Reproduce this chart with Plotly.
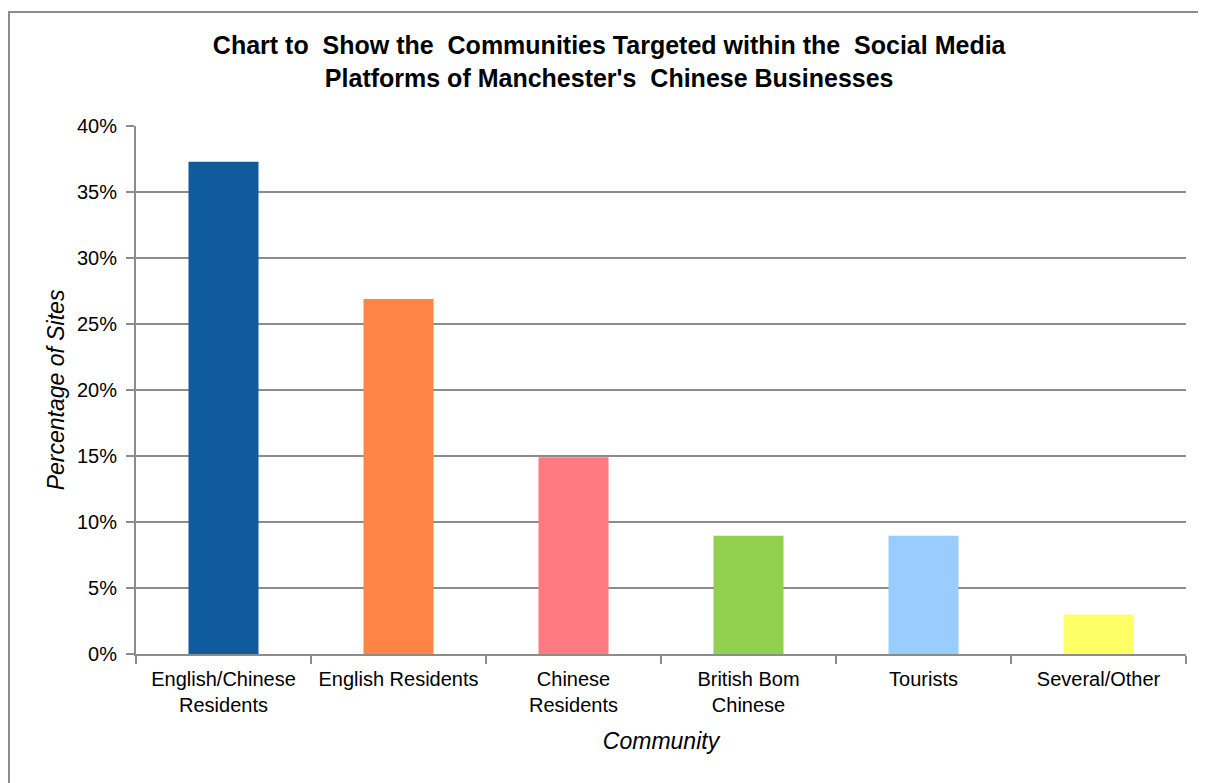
import plotly.graph_objects as go

categories = ["English/Chinese<br>Residents", "English Residents", "Chinese<br>Residents",
              "British Bom<br>Chinese", "Tourists", "Several/Other"]
values = [0.373, 0.269, 0.149, 0.0896, 0.0896, 0.0299]
colors = ["#0F5B9E", "#FF8547", "#FF7A80", "#92D050", "#99CCFF", "#FFFF66"]
y_ticks = [0, 0.05, 0.10, 0.15, 0.20, 0.25, 0.30, 0.35, 0.40]
title_text = ("Chart to  Show the  Communities Targeted within the  Social Media<br>"
              "Platforms of Manchester's  Chinese Businesses")

font = "Liberation Sans, Arial, sans-serif"

# plot area (figure coords): x 128..1178, y 118..646
L, R, T, B = 128, 28, 118, 137
PW, PH = 1206 - L - R, 783 - T - B

fig = go.Figure(go.Bar(x=categories, y=values, marker=dict(color=colors, line=dict(width=0)), width=0.4))

fig.update_layout(
    width=1206, height=783,
    paper_bgcolor="white", plot_bgcolor="white",
    margin=dict(l=L, r=R, t=T, b=B),
    font=dict(family=font, color="#000000", size=20),
    title=dict(text="<b>" + title_text + "</b>",
               x=0.4985, xanchor="center", xref="container",
               y=1 - 46 / 783, yanchor="top", yref="container",
               font=dict(size=25, family=font, color="#000000")),
    showlegend=False,
)
fig.update_xaxes(
    title=dict(text="<i>Community</i>", font=dict(size=23), standoff=18),
    showline=True, linecolor="#8C8C8C", linewidth=2,
    ticks="outside", tickson="boundaries", ticklen=8, tickcolor="#8C8C8C", tickwidth=2,
    showgrid=False, tickfont=dict(size=20), ticklabelstandoff=6,
)
fig.update_yaxes(
    title=dict(text="<i>Percentage of Sites</i>", font=dict(size=23), standoff=6),
    range=[0, 0.40], tickvals=y_ticks, tickformat=".0%",
    showline=True, linecolor="#8C8C8C", linewidth=2,
    ticks="outside", ticklen=8, tickcolor="#8C8C8C", tickwidth=2,
    showgrid=True, gridcolor="#8C8C8C", gridwidth=1.5, zeroline=False,
    tickfont=dict(size=20), ticklabelstandoff=5,
)
fig.add_shape(type="rect", xref="paper", yref="paper",
              x0=(1 - L) / PW, x1=(1215 - L) / PW,
              y0=(646 - 800) / PH, y1=(646 - 4) / PH,
              line=dict(color="#8C8C8C", width=2), fillcolor="rgba(0,0,0,0)", layer="below")

fig.write_html("out.html")
